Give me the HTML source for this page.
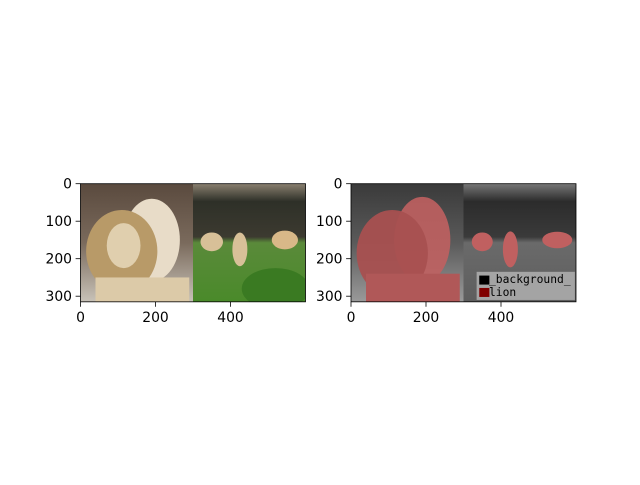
<!DOCTYPE html>
<html><head><meta charset="utf-8"><style>
body{margin:0;background:#fff;width:640px;height:480px;overflow:hidden}
svg text{font-family:"DejaVu Sans","Liberation Sans",sans-serif;font-size:13.9px;fill:#000}
</style></head><body>
<svg id="fig" width="640" height="480" viewBox="0 0 640 480">
<defs>
<clipPath id="clipImg"><rect x="0" y="0" width="600" height="315"/></clipPath>
<linearGradient id="bgL" x1="0" y1="0" x2="0" y2="1"><stop offset="0" stop-color="#5a4a3e"/><stop offset="0.5" stop-color="#7a6a5c"/><stop offset="1" stop-color="#c8c2b8"/></linearGradient>
<linearGradient id="zoo" x1="0" y1="0" x2="0" y2="1"><stop offset="0" stop-color="#8a8070"/><stop offset="0.15" stop-color="#2e3028"/><stop offset="0.45" stop-color="#3c3a30"/><stop offset="0.5" stop-color="#5a8a3a"/><stop offset="1" stop-color="#4a8a2a"/></linearGradient>
<linearGradient id="bgG" x1="0" y1="0" x2="0" y2="1"><stop offset="0" stop-color="#3a3a3a"/><stop offset="0.5" stop-color="#5a5a5a"/><stop offset="1" stop-color="#9a9a9a"/></linearGradient>
<linearGradient id="zooG" x1="0" y1="0" x2="0" y2="1"><stop offset="0" stop-color="#777"/><stop offset="0.15" stop-color="#2c2c2c"/><stop offset="0.45" stop-color="#3a3a3a"/><stop offset="0.5" stop-color="#6a6a6a"/><stop offset="1" stop-color="#5e5e5e"/></linearGradient>
</defs>
<g id="axL" transform="translate(80.5,183.7) scale(0.375)">
<g clip-path="url(#clipImg)">
 <rect x="0" y="0" width="300" height="315" fill="url(#bgL)"/>
 <ellipse cx="190" cy="150" rx="75" ry="110" fill="#e8dcc8"/>
 <ellipse cx="110" cy="180" rx="95" ry="110" fill="#b89a68"/>
 <ellipse cx="115" cy="165" rx="45" ry="60" fill="#e0cfae"/>
 <rect x="40" y="250" width="250" height="65" fill="#dccaa8"/>
 <rect x="300" y="0" width="300" height="315" fill="url(#zoo)"/>
 <ellipse cx="350" cy="155" rx="30" ry="25" fill="#d8c098"/>
 <ellipse cx="425" cy="175" rx="20" ry="45" fill="#d8c098"/>
 <ellipse cx="545" cy="150" rx="35" ry="25" fill="#d8b888"/>
 <ellipse cx="520" cy="280" rx="90" ry="55" fill="#3a7a22"/>
</g>
</g>
<g id="axR" transform="translate(351,183.7) scale(0.375)">
<g clip-path="url(#clipImg)">
 <rect x="0" y="0" width="300" height="315" fill="url(#bgG)"/>
 <rect x="300" y="0" width="300" height="315" fill="url(#zooG)"/>
 <ellipse cx="190" cy="150" rx="75" ry="115" fill="#c06060" opacity="0.9"/>
 <ellipse cx="110" cy="185" rx="95" ry="115" fill="#a85050" opacity="0.95"/>
 <rect x="40" y="240" width="250" height="75" fill="#b05858"/>
 <ellipse cx="350" cy="155" rx="28" ry="25" fill="#c06060"/>
 <ellipse cx="425" cy="175" rx="20" ry="48" fill="#c06060"/>
 <ellipse cx="550" cy="150" rx="40" ry="22" fill="#c06060"/>
 <rect x="335" y="235" width="262" height="75" fill="#b0b0b0" opacity="0.85"/>
 <rect x="342" y="245" width="27" height="24" fill="#000"/>
 <rect x="342" y="278" width="27" height="24" fill="#800000"/>
</g>
</g>
<text x="489" y="283" style="font-family:'DejaVu Sans Mono','Liberation Mono',monospace;font-size:11.3px">_background_</text>
<text x="489" y="296" style="font-family:'DejaVu Sans Mono','Liberation Mono',monospace;font-size:11.3px">lion</text>
<g id="ticks"></g>
</svg>
<script>
const xTicks=[0,200,400];
const yTicks=[0,100,200,300];
const imgW=600, imgH=315;
const axes=[{x0:80.5,name:'left'},{x0:351,name:'right'}];
const y0=183.7, sc=0.375;
const NS='http://www.w3.org/2000/svg';
const g=document.getElementById('ticks');
function mk(t,a){const e=document.createElementNS(NS,t);for(const k in a)e.setAttribute(k,a[k]);g.appendChild(e);return e;}
axes.forEach(ax=>{
 const fr=mk('rect',{x:ax.x0,y:y0,width:imgW*sc,height:imgH*sc,fill:'none',stroke:'#000','stroke-width':0.8});
 
 
 xTicks.forEach(v=>{const x=ax.x0+v*sc;
  const l=mk('line',{x1:x,x2:x,y1:y0+imgH*sc,y2:y0+imgH*sc+4.9,stroke:'#000','stroke-width':0.8});
  
  
  const t=mk('text',{x:x,y:y0+imgH*sc+20,'text-anchor':'middle'});t.textContent=v;
  
  });
 yTicks.forEach(v=>{const y=y0+v*sc;
  const l=mk('line',{x1:ax.x0-4.9,x2:ax.x0,y1:y,y2:y,stroke:'#000','stroke-width':0.8});
  
  
  const t=mk('text',{x:ax.x0-8.5,y:y+5,'text-anchor':'end'});t.textContent=v;
  
  });
});
</script>
</body></html>
